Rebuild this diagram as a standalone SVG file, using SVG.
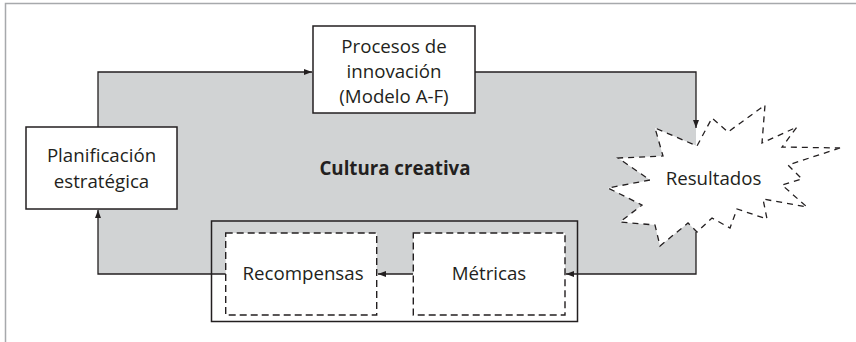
<svg xmlns="http://www.w3.org/2000/svg" width="856" height="342" viewBox="0 0 856 342">
<style>
.t{font-family:"Open Sans","Liberation Sans",sans-serif;font-size:18.7px;fill:#231f20;text-anchor:middle}
.b{font-weight:bold}
.box{fill:#fff;stroke:#231f20;stroke-width:1.5}
.dash{fill:#fff;stroke:#231f20;stroke-width:1.4;stroke-dasharray:7 4}
.con{fill:none;stroke:#231f20;stroke-width:1.3}
</style>
<defs>
<marker id="ah" viewBox="0 0 8 6" refX="8" refY="3" markerWidth="8" markerHeight="6" markerUnits="userSpaceOnUse" orient="auto">
<path d="M0,0 L8,3 L0,6 Z" fill="#231f20"/>
</marker>
</defs>
<rect width="856" height="342" fill="#fff"/>
<path d="M5.5,342 V3.5 H856" fill="none" stroke="#a7a9ac" stroke-width="1.5"/>
<rect id="cultura-bg" x="98" y="72" width="598" height="202" fill="#d1d3d4"/>
<g id="connectors">
<path class="con" d="M98,127 V72 H312" marker-end="url(#ah)"/>
<path class="con" d="M475,72 H696 V128" marker-end="url(#ah)"/>
<path class="con" d="M696,232 V274 H566" marker-end="url(#ah)"/>
<path class="con" d="M413,274 H378" marker-end="url(#ah)"/>
<path class="con" d="M226,274 H98 V210" marker-end="url(#ah)"/>
</g>
<g id="cultura">
<text class="t b" x="395" y="175">Cultura creativa</text>
</g>
<g id="grupo-incentivos">
<rect x="211.5" y="221" width="366" height="100.5" fill="none" stroke="#231f20" stroke-width="1.5"/>
</g>
<g id="procesos">
<rect class="box" x="313" y="26" width="162" height="87"/>
<text class="t" x="394" y="53">Procesos de</text>
<text class="t" x="394" y="78">innovación</text>
<text class="t" x="394" y="103">(Modelo A-F)</text>
</g>
<g id="planificacion">
<rect class="box" x="26" y="127" width="151" height="82"/>
<text class="t" x="101.5" y="162">Planificación</text>
<text class="t" x="101.5" y="188">estratégica</text>
</g>
<g id="recompensas">
<rect class="dash" x="225.7" y="233" width="151" height="82"/>
<text class="t" x="303" y="280">Recompensas</text>
</g>
<g id="metricas">
<rect class="dash" x="413.3" y="233" width="151.7" height="82"/>
<text class="t" x="489" y="280">Métricas</text>
</g>
<g id="resultados">
<polygon fill="#fff" stroke="#231f20" stroke-width="1.3" stroke-dasharray="6 5" points="840,148 788,165 802,179 782,185 807,207 763,199 767,219 737,209 730,228 712,218 697,232 688,223 660,246 655,225 620,222 642,205 608,188 650,180 618,158 663,156 655,128 697,146 712,118 728,132 765,105 762,143 797,127 782,147"/>
<text class="t" x="713.5" y="185">Resultados</text>
</g>
</svg>
